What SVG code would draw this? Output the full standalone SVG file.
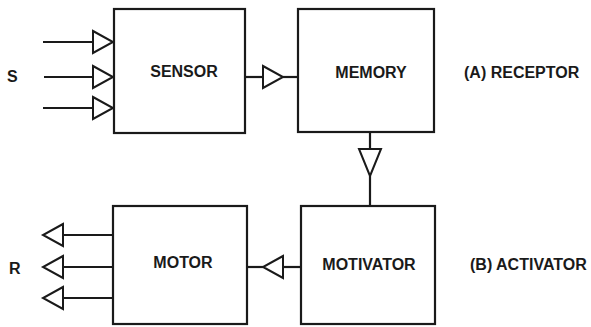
<svg xmlns="http://www.w3.org/2000/svg" width="591" height="327" viewBox="0 0 591 327">
<style>
.box{fill:#fff;stroke:#1a1a1a;stroke-width:2.2}
.ln{stroke:#1a1a1a;stroke-width:2.2;fill:none}
.tri{fill:#fff;stroke:#1a1a1a;stroke-width:2;stroke-linejoin:miter}
text{font-family:"Liberation Sans",Arial,sans-serif;font-weight:bold;font-size:16px;fill:#1a1a1a}
.c{text-anchor:middle}
</style>
<rect width="591" height="327" fill="#fff"/>
<g id="connectors">
<line class="ln" x1="43" y1="42" x2="93" y2="42"/>
<polygon class="tri" points="93,31 113,42 93,53"/>
<line class="ln" x1="44" y1="77" x2="93" y2="77"/>
<polygon class="tri" points="93,66 113,77 93,88"/>
<line class="ln" x1="43" y1="108" x2="93" y2="108"/>
<polygon class="tri" points="93,97 113,108 93,119"/>
<line class="ln" x1="245" y1="77" x2="263" y2="77"/>
<polygon class="tri" points="263,66 283,77 263,88"/>
<line class="ln" x1="283" y1="77" x2="298" y2="77"/>
<line class="ln" x1="370" y1="132" x2="370" y2="149"/>
<polygon class="tri" points="359,149 381,149 370,176"/>
<line class="ln" x1="370" y1="176" x2="370" y2="206"/>
<line class="ln" x1="301" y1="267" x2="283" y2="267"/>
<polygon class="tri" points="283,256 263,267 283,278"/>
<line class="ln" x1="263" y1="267" x2="247" y2="267"/>
<line class="ln" x1="113" y1="235" x2="63" y2="235"/>
<polygon class="tri" points="63,224 43,235 63,246"/>
<line class="ln" x1="113" y1="267" x2="63" y2="267"/>
<polygon class="tri" points="63,256 43,267 63,278"/>
<line class="ln" x1="113" y1="298" x2="63" y2="298"/>
<polygon class="tri" points="63,287 43,298 63,309"/>
</g>
<g id="sensor"><rect class="box" x="114" y="9" width="131" height="124"/><text class="c" x="184" y="77">SENSOR</text></g>
<g id="memory"><rect class="box" x="298" y="9" width="136" height="123"/><text class="c" x="371" y="78">MEMORY</text></g>
<g id="motivator"><rect class="box" x="301" y="206" width="134" height="118"/><text class="c" x="369" y="270">MOTIVATOR</text></g>
<g id="motor"><rect class="box" x="113" y="206" width="134" height="118"/><text class="c" x="183" y="268">MOTOR</text></g>
<g id="labels">
<text x="7" y="82">S</text>
<text x="9" y="274">R</text>
<text x="464" y="78">(A) RECEPTOR</text>
<text x="470" y="270">(B) ACTIVATOR</text>
</g>
</svg>
